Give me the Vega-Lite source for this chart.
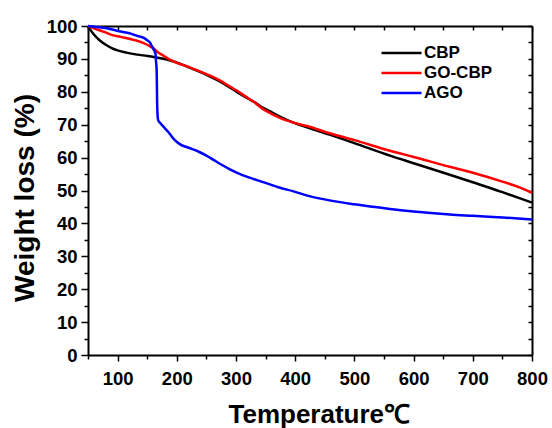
{
  "$schema": "https://vega.github.io/schema/vega-lite/v6.json",
  "width": 444,
  "height": 329,
  "autosize": {"type": "none"},
  "padding": {"left": 88, "top": 26, "right": 20, "bottom": 73},
  "background": "white",
  "config": {
    "view": {"stroke": null},
    "font": "Liberation Sans",
    "axis": {
      "grid": false,
      "domainColor": "black",
      "domainWidth": 2,
      "tickColor": "black",
      "tickWidth": 1.5,
      "labelFont": "Liberation Sans",
      "labelFontWeight": "bold",
      "labelFontSize": 18.5,
      "labelColor": "black",
      "labelOverlap": false,
      "labelFlush": false,
      "titleFont": "Liberation Sans",
      "titleFontWeight": "bold",
      "titleColor": "black"
    }
  },
  "data": {
    "values": [
      {"sample": "CBP", "temp": 50, "loss": 100},
      {"sample": "CBP", "temp": 55, "loss": 98.6},
      {"sample": "CBP", "temp": 60, "loss": 97.4},
      {"sample": "CBP", "temp": 70, "loss": 95.6},
      {"sample": "CBP", "temp": 80, "loss": 94.3},
      {"sample": "CBP", "temp": 90, "loss": 93.3},
      {"sample": "CBP", "temp": 100, "loss": 92.6},
      {"sample": "CBP", "temp": 115, "loss": 91.9},
      {"sample": "CBP", "temp": 133, "loss": 91.3},
      {"sample": "CBP", "temp": 150, "loss": 90.9},
      {"sample": "CBP", "temp": 161, "loss": 90.6},
      {"sample": "CBP", "temp": 175, "loss": 90.1},
      {"sample": "CBP", "temp": 189, "loss": 89.5},
      {"sample": "CBP", "temp": 203, "loss": 88.7},
      {"sample": "CBP", "temp": 218, "loss": 87.6},
      {"sample": "CBP", "temp": 232, "loss": 86.6},
      {"sample": "CBP", "temp": 246, "loss": 85.5},
      {"sample": "CBP", "temp": 260, "loss": 84.3},
      {"sample": "CBP", "temp": 274, "loss": 83.0},
      {"sample": "CBP", "temp": 288, "loss": 81.5},
      {"sample": "CBP", "temp": 302, "loss": 79.9},
      {"sample": "CBP", "temp": 316, "loss": 78.4},
      {"sample": "CBP", "temp": 331, "loss": 76.9},
      {"sample": "CBP", "temp": 345, "loss": 75.2},
      {"sample": "CBP", "temp": 360, "loss": 73.8},
      {"sample": "CBP", "temp": 375, "loss": 72.4},
      {"sample": "CBP", "temp": 396, "loss": 70.7},
      {"sample": "CBP", "temp": 420, "loss": 69.2},
      {"sample": "CBP", "temp": 458, "loss": 67.0},
      {"sample": "CBP", "temp": 500, "loss": 64.4},
      {"sample": "CBP", "temp": 560, "loss": 60.6},
      {"sample": "CBP", "temp": 600, "loss": 58.3},
      {"sample": "CBP", "temp": 661, "loss": 54.8},
      {"sample": "CBP", "temp": 700, "loss": 52.5},
      {"sample": "CBP", "temp": 750, "loss": 49.5},
      {"sample": "CBP", "temp": 780, "loss": 47.6},
      {"sample": "CBP", "temp": 800, "loss": 46.3},
      {"sample": "GO-CBP", "temp": 50, "loss": 100},
      {"sample": "GO-CBP", "temp": 60, "loss": 99.3},
      {"sample": "GO-CBP", "temp": 76, "loss": 98.3},
      {"sample": "GO-CBP", "temp": 90, "loss": 97.3},
      {"sample": "GO-CBP", "temp": 105, "loss": 96.7},
      {"sample": "GO-CBP", "temp": 120, "loss": 96.1},
      {"sample": "GO-CBP", "temp": 133, "loss": 95.5},
      {"sample": "GO-CBP", "temp": 150, "loss": 94.3},
      {"sample": "GO-CBP", "temp": 160, "loss": 93.3},
      {"sample": "GO-CBP", "temp": 167, "loss": 92.2},
      {"sample": "GO-CBP", "temp": 178, "loss": 90.9},
      {"sample": "GO-CBP", "temp": 189, "loss": 89.7},
      {"sample": "GO-CBP", "temp": 203, "loss": 88.6},
      {"sample": "GO-CBP", "temp": 218, "loss": 87.7},
      {"sample": "GO-CBP", "temp": 232, "loss": 86.7},
      {"sample": "GO-CBP", "temp": 246, "loss": 85.7},
      {"sample": "GO-CBP", "temp": 260, "loss": 84.6},
      {"sample": "GO-CBP", "temp": 274, "loss": 83.3},
      {"sample": "GO-CBP", "temp": 288, "loss": 81.8},
      {"sample": "GO-CBP", "temp": 302, "loss": 80.3},
      {"sample": "GO-CBP", "temp": 316, "loss": 78.6},
      {"sample": "GO-CBP", "temp": 331, "loss": 76.8},
      {"sample": "GO-CBP", "temp": 345, "loss": 74.8},
      {"sample": "GO-CBP", "temp": 360, "loss": 73.3},
      {"sample": "GO-CBP", "temp": 375, "loss": 72.0},
      {"sample": "GO-CBP", "temp": 396, "loss": 70.7},
      {"sample": "GO-CBP", "temp": 420, "loss": 69.6},
      {"sample": "GO-CBP", "temp": 458, "loss": 67.4},
      {"sample": "GO-CBP", "temp": 500, "loss": 65.3},
      {"sample": "GO-CBP", "temp": 560, "loss": 62.1},
      {"sample": "GO-CBP", "temp": 600, "loss": 60.2},
      {"sample": "GO-CBP", "temp": 661, "loss": 57.2},
      {"sample": "GO-CBP", "temp": 700, "loss": 55.4},
      {"sample": "GO-CBP", "temp": 750, "loss": 52.7},
      {"sample": "GO-CBP", "temp": 780, "loss": 50.9},
      {"sample": "GO-CBP", "temp": 800, "loss": 49.3},
      {"sample": "AGO", "temp": 50, "loss": 100},
      {"sample": "AGO", "temp": 60, "loss": 99.8},
      {"sample": "AGO", "temp": 82, "loss": 99.3},
      {"sample": "AGO", "temp": 105, "loss": 98.3},
      {"sample": "AGO", "temp": 120, "loss": 97.8},
      {"sample": "AGO", "temp": 133, "loss": 97.0},
      {"sample": "AGO", "temp": 145, "loss": 96.3},
      {"sample": "AGO", "temp": 150, "loss": 95.7},
      {"sample": "AGO", "temp": 155, "loss": 94.9},
      {"sample": "AGO", "temp": 158, "loss": 93.8},
      {"sample": "AGO", "temp": 161, "loss": 92.8},
      {"sample": "AGO", "temp": 164, "loss": 91.6},
      {"sample": "AGO", "temp": 165, "loss": 89.0},
      {"sample": "AGO", "temp": 166, "loss": 86.5},
      {"sample": "AGO", "temp": 166.8, "loss": 76.3},
      {"sample": "AGO", "temp": 167.5, "loss": 73.0},
      {"sample": "AGO", "temp": 168.5, "loss": 71.4},
      {"sample": "AGO", "temp": 172, "loss": 70.5},
      {"sample": "AGO", "temp": 177, "loss": 69.5},
      {"sample": "AGO", "temp": 186, "loss": 67.7},
      {"sample": "AGO", "temp": 195, "loss": 65.6},
      {"sample": "AGO", "temp": 205, "loss": 64.1},
      {"sample": "AGO", "temp": 220, "loss": 63.0},
      {"sample": "AGO", "temp": 238, "loss": 61.7},
      {"sample": "AGO", "temp": 250, "loss": 60.6},
      {"sample": "AGO", "temp": 262, "loss": 59.3},
      {"sample": "AGO", "temp": 275, "loss": 57.9},
      {"sample": "AGO", "temp": 289, "loss": 56.5},
      {"sample": "AGO", "temp": 305, "loss": 55.1},
      {"sample": "AGO", "temp": 323, "loss": 53.9},
      {"sample": "AGO", "temp": 350, "loss": 52.3},
      {"sample": "AGO", "temp": 373, "loss": 50.9},
      {"sample": "AGO", "temp": 396, "loss": 49.8},
      {"sample": "AGO", "temp": 424, "loss": 48.3},
      {"sample": "AGO", "temp": 458, "loss": 47.0},
      {"sample": "AGO", "temp": 500, "loss": 45.8},
      {"sample": "AGO", "temp": 560, "loss": 44.4},
      {"sample": "AGO", "temp": 600, "loss": 43.6},
      {"sample": "AGO", "temp": 661, "loss": 42.7},
      {"sample": "AGO", "temp": 700, "loss": 42.3},
      {"sample": "AGO", "temp": 750, "loss": 41.8},
      {"sample": "AGO", "temp": 800, "loss": 41.2}
    ]
  },
  "layer": [
    {
      "mark": {"type": "line", "strokeWidth": 2.5, "interpolate": "monotone"},
      "encoding": {
        "x": {
          "field": "temp", "type": "quantitative",
          "scale": {"domain": [50, 800], "nice": false, "zero": false},
          "axis": {
            "orient": "bottom",
            "values": [50, 100, 150, 200, 250, 300, 350, 400, 450, 500, 550, 600, 650, 700, 750, 800],
            "labelExpr": "datum.value % 100 === 0 ? datum.label : ''",
            "tickSize": {"condition": {"test": "datum.value % 100 === 0", "value": 6}, "value": 4},
            "labelPadding": 8,
            "title": "Temperature℃",
            "titleFontSize": 26,
            "titleAlign": "left",
            "titleBaseline": "alphabetic",
            "titleX": 140,
            "titleY": 67
          }
        },
        "y": {
          "field": "loss", "type": "quantitative",
          "scale": {"domain": [0, 100], "nice": false},
          "axis": {
            "orient": "left",
            "values": [0, 5, 10, 15, 20, 25, 30, 35, 40, 45, 50, 55, 60, 65, 70, 75, 80, 85, 90, 95, 100],
            "labelExpr": "datum.value % 10 === 0 ? datum.label : ''",
            "tickSize": {"condition": {"test": "datum.value % 10 === 0", "value": 7}, "value": 4},
            "labelPadding": 4,
            "title": "Weight loss (%)",
            "titleFontSize": 28,
            "titleAngle": 270,
            "titleAlign": "center",
            "titleBaseline": "alphabetic",
            "titleX": -55,
            "titleY": 171.5
          }
        },
        "color": {
          "field": "sample", "type": "nominal",
          "scale": {"domain": ["CBP", "GO-CBP", "AGO"], "range": ["#000000", "#ff0000", "#0000ff"]},
          "legend": {
            "orient": "none",
            "legendX": 302,
            "legendY": 15.5,
            "title": null,
            "padding": 0,
            "symbolType": "M-2,0H2",
            "symbolSize": 400,
            "symbolStrokeWidth": 2.5,
            "labelFont": "Liberation Sans",
            "labelFontWeight": "bold",
            "labelFontSize": 17,
            "labelColor": "black",
            "labelOffset": 11,
            "rowPadding": 0
          }
        }
      }
    },
    {
      "mark": {"type": "line", "opacity": 0},
      "encoding": {
        "x": {
          "field": "temp", "type": "quantitative",
          "scale": {"domain": [50, 800], "nice": false, "zero": false},
          "axis": {
            "orient": "top",
            "values": [50, 100, 150, 200, 250, 300, 350, 400, 450, 500, 550, 600, 650, 700, 750, 800],
            "labels": false,
            "tickSize": -4,
            "title": null
          }
        },
        "y": {
          "field": "loss", "type": "quantitative",
          "scale": {"domain": [0, 100], "nice": false},
          "axis": {
            "orient": "right",
            "values": [0, 5, 10, 15, 20, 25, 30, 35, 40, 45, 50, 55, 60, 65, 70, 75, 80, 85, 90, 95, 100],
            "labels": false,
            "tickSize": -4,
            "title": null
          }
        }
      }
    }
  ],
  "resolve": {"axis": {"x": "independent", "y": "independent"}}
}
